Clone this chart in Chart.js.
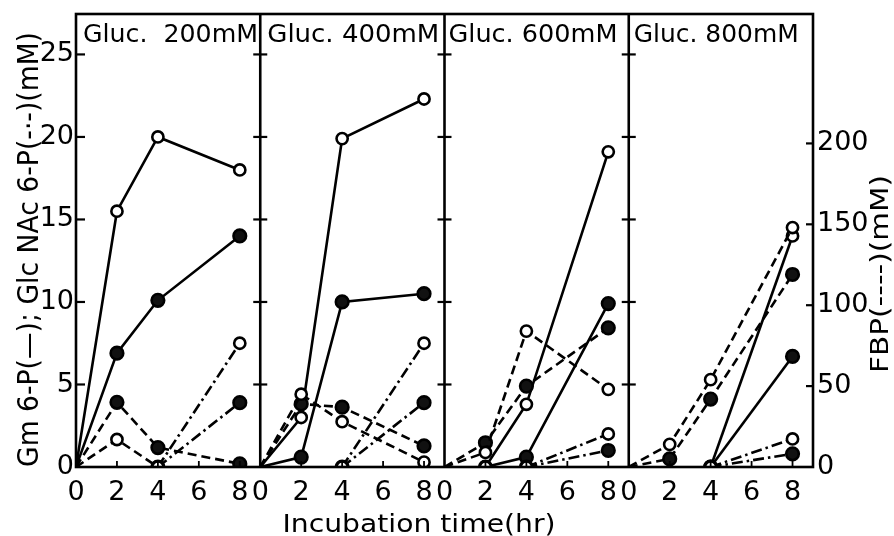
<!DOCTYPE html>
<html>
<head>
<meta charset="utf-8">
<script src="https://cdn.jsdelivr.net/npm/chart.js@4.4.1/dist/chart.umd.min.js"></script>
<style>
  html, body { margin: 0; padding: 0; background: #fff; }
  #c { display: block; }
</style>
</head>
<body>
<canvas id="c" width="894" height="536"></canvas>
<script>
// ---------------- DATA ----------------
const hours = [0, 2, 4, 8];
const panelTitles = ['Gluc.  200mM', 'Gluc. 400mM', 'Gluc. 600mM', 'Gluc. 800mM'];
const xTickHours = [0, 2, 4, 6, 8];
const yLeftTicks = [0, 5, 10, 15, 20, 25];
const yRightTicks = [0, 50, 100, 150, 200];
const leftTitle = 'Gm 6-P(\u2014); Glc NAc 6-P(-\u00b7-)(mM)';
const rightTitle = 'FBP(----)(mM)';
const xTitle = 'Incubation time(hr)';

// Gm 6-P (solid line), left axis, mM — one row per panel, values at hours 0,2,4,8
const gm6pOpen   = [[0, 15.5, 20.0, 18.0], [0, 3.0, 19.9, 22.3], [null, 0, 3.8, 19.1], [null, null, 0, 14.0]];
const gm6pFilled = [[0, 6.9, 10.1, 14.0], [0, 0.6, 10.0, 10.5], [null, 0, 0.6, 9.9], [null, null, 0, 6.7]];
// Glc NAc 6-P (dash-dot line), left axis, mM
const glcnacOpen   = [[null, null, 0, 7.5], [null, null, 0, 7.5], [null, null, 0, 2.0], [null, null, 0, 1.7]];
const glcnacFilled = [[null, null, 0, 3.9], [null, null, 0, 3.9], [null, null, 0, 1.0], [null, null, 0, 0.8]];
// FBP (dashed line), right axis, mM
const fbpOpen   = [[0, 17, 0, null], [0, 45, 28, 3], [0, 9, 84, 48], [0, 14, 54, 148]];
const fbpFilled = [[0, 40, 12, 2], [0, 39, 37, 13], [0, 15, 50, 86], [0, 5, 42, 119]];

const PANEL_SPAN = 9; // hours of axis width per panel
const FONT = '"DejaVu Sans", sans-serif';

// ---------------- BUILD DATASETS ----------------
function series(rowSet, p) {
  return hours.map((h, i) => ({ x: p * PANEL_SPAN + h, y: rowSet[p][i] }));
}
const styles = {
  solid:   [],
  dashed:  [9, 5],
  dashdot: [11, 4, 2.5, 4]
};
function makeDs(rows, p, filled, dash, axis) {
  return {
    data: series(rows, p),
    yAxisID: axis,
    borderColor: '#000',
    borderWidth: 2.6,
    borderDash: styles[dash],
    backgroundColor: filled ? '#000' : '#fff',
    pointBackgroundColor: filled ? '#111' : '#fff',
    pointBorderColor: '#000',
    pointBorderWidth: 2.6,
    pointRadius: (ctx) => {
      const r = ctx.raw;
      if (!r || r.y === null) return 0;
      const h = r.x - Math.floor(r.x / PANEL_SPAN + 1e-9) * PANEL_SPAN;
      if (h < 0.01) return 0;
      return filled ? 6.3 : 5.6;
    },
    pointHoverRadius: 0,
    fill: false,
    tension: 0,
    spanGaps: false
  };
}
const datasets = [];
for (let p = 0; p < 4; p++) {
  datasets.push(makeDs(fbpOpen, p, false, 'dashed', 'y1'));
  datasets.push(makeDs(fbpFilled, p, true, 'dashed', 'y1'));
  datasets.push(makeDs(glcnacOpen, p, false, 'dashdot', 'y'));
  datasets.push(makeDs(glcnacFilled, p, true, 'dashdot', 'y'));
  datasets.push(makeDs(gm6pOpen, p, false, 'solid', 'y'));
  datasets.push(makeDs(gm6pFilled, p, true, 'solid', 'y'));
}

// ---------------- DECORATION PLUGIN ----------------
function fitText(ctx, text, x, y, font, targetW, align, rot) {
  ctx.save();
  ctx.font = font;
  const w = ctx.measureText(text).width;
  ctx.translate(x, y);
  if (rot) ctx.rotate(rot);
  ctx.scale(targetW / w, 1);
  ctx.textAlign = align;
  ctx.textBaseline = 'alphabetic';
  ctx.fillStyle = '#000';
  ctx.fillText(text, 0, 0);
  ctx.restore();
}

const decor = {
  id: 'decor',
  beforeDraw(chart) {
    const ctx = chart.ctx;
    ctx.save();
    ctx.fillStyle = '#fff';
    ctx.fillRect(0, 0, chart.width, chart.height);
    ctx.restore();
  },
  afterDatasetsDraw(chart) {
    const ctx = chart.ctx;
    const a = chart.chartArea;
    const xs = chart.scales.x, ys = chart.scales.y, y1 = chart.scales.y1;
    ctx.save();
    ctx.strokeStyle = '#000';
    ctx.lineCap = 'butt';
    ctx.setLineDash([]);
    // frame
    ctx.lineWidth = 2.6;
    ctx.strokeRect(a.left, a.top, a.right - a.left, a.bottom - a.top);
    // dividers
    for (let p = 1; p < 4; p++) {
      const px = xs.getPixelForValue(p * PANEL_SPAN);
      ctx.beginPath(); ctx.moveTo(px, a.top); ctx.lineTo(px, a.bottom); ctx.stroke();
    }
    // y ticks
    ctx.lineWidth = 2.2;
    yLeftTicks.forEach(v => {
      if (v === 0) return;
      const py = ys.getPixelForValue(v);
      ctx.beginPath(); ctx.moveTo(a.left, py); ctx.lineTo(a.left + 9, py); ctx.stroke();
      for (let p = 1; p < 4; p++) {
        const px = xs.getPixelForValue(p * PANEL_SPAN);
        ctx.beginPath(); ctx.moveTo(px - 7, py); ctx.lineTo(px + 7, py); ctx.stroke();
      }
    });
    yRightTicks.forEach(v => {
      if (v === 0) return;
      const py = y1.getPixelForValue(v);
      ctx.beginPath(); ctx.moveTo(a.right - 7, py); ctx.lineTo(a.right, py); ctx.stroke();
    });
    // x inward ticks
    ctx.lineWidth = 1.8;
    for (let p = 0; p < 4; p++) {
      xTickHours.forEach(h => {
        if (h === 0) return;
        const px = xs.getPixelForValue(p * PANEL_SPAN + h);
        ctx.beginPath(); ctx.moveTo(px, a.bottom); ctx.lineTo(px, a.bottom - 6); ctx.stroke();
      });
    }
    ctx.restore();
  },
  afterDraw(chart) {
    const ctx = chart.ctx;
    const xs = chart.scales.x;
    const widths = [175, 172, 169, 165];
    const offs = [7, 7, 4, 5];
    for (let p = 0; p < 4; p++) {
      const px = xs.getPixelForValue(p * PANEL_SPAN);
      fitText(ctx, panelTitles[p], px + offs[p], 42, '25px ' + FONT, widths[p], 'left', 0);
    }
    fitText(ctx, leftTitle, 38, 249.5, '29px ' + FONT, 435, 'center', -Math.PI / 2);
    fitText(ctx, rightTitle, 888, 274, '25px ' + FONT, 198, 'center', -Math.PI / 2);
    fitText(ctx, xTitle, 419, 532, '24px ' + FONT, 273, 'center', 0);
  }
};

function fixV(w) {
  return (s) => { s.width = w; s.paddingTop = 0; s.paddingBottom = 0; };
}

// ---------------- CHART ----------------
new Chart(document.getElementById('c'), {
  type: 'line',
  data: { datasets },
  plugins: [decor],
  options: {
    responsive: false,
    animation: false,
    devicePixelRatio: 1,
    layout: { padding: { top: 14, left: 0, right: 0, bottom: 0 } },
    plugins: { legend: { display: false }, tooltip: { enabled: false }, title: { display: false } },
    scales: {
      x: {
        type: 'linear',
        min: 0, max: 4 * PANEL_SPAN,
        afterBuildTicks: (scale) => {
          const t = [];
          for (let p = 0; p < 4; p++) xTickHours.forEach(h => t.push({ value: p * PANEL_SPAN + h }));
          scale.ticks = t;
        },
        afterFit: (s) => { s.height = 69; s.paddingLeft = 0; s.paddingRight = 0; },
        grid: { display: false, drawTicks: false },
        border: { display: false },
        ticks: {
          autoSkip: false, maxRotation: 0, padding: 10,
          color: '#000', font: { family: FONT, size: 27 },
          callback: (v) => String(Math.round(v) % PANEL_SPAN)
        }
      },
      y: {
        type: 'linear', position: 'left',
        min: 0, max: 27.45,
        afterBuildTicks: (scale) => { scale.ticks = yLeftTicks.map(v => ({ value: v })); },
        afterFit: fixV(76),
        grid: { display: false, drawTicks: false },
        border: { display: false },
        ticks: { padding: 2, color: '#000', font: { family: FONT, size: 27 } }
      },
      y1: {
        type: 'linear', position: 'right',
        min: 0, max: 280,
        afterBuildTicks: (scale) => { scale.ticks = yRightTicks.map(v => ({ value: v })); },
        afterFit: fixV(81),
        grid: { display: false, drawTicks: false },
        border: { display: false },
        ticks: { padding: 4, color: '#000', font: { family: FONT, size: 27 } }
      }
    }
  }
});
</script>
</body>
</html>
